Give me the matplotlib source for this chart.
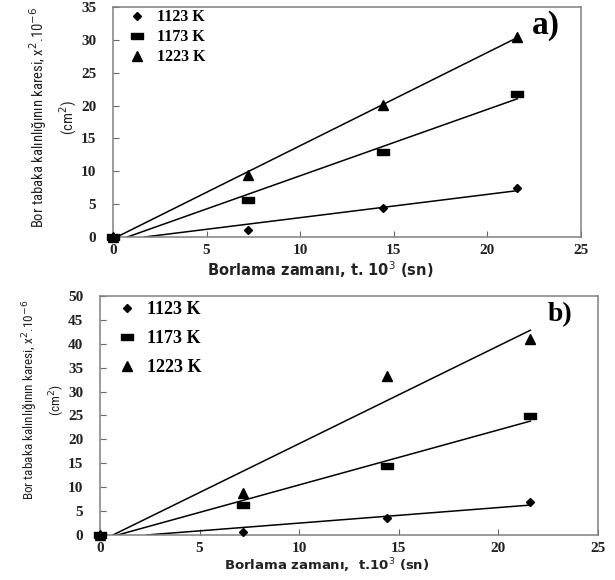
import numpy as np
import matplotlib
matplotlib.use("Agg")
import matplotlib.pyplot as plt

# borlama zamani (10^3 s)
t = [0.0, 7.2, 14.4, 21.6]
temps = ["1123 K", "1173 K", "1223 K"]

# panel a) x^2 . 10^-6 (cm^2)
a_1123 = [0.0, 1.1, 4.4, 7.4]
a_1173 = [0.0, 5.7, 13.0, 21.8]
a_1223 = [0.0, 9.5, 20.1, 30.5]

# panel b)
b_1123 = [0.0, 0.6, 3.6, 6.8]
b_1173 = [0.0, 6.3, 14.4, 24.9]
b_1223 = [0.0, 8.8, 33.3, 40.9]

serif = "Liberation Serif"
narrow = ["Liberation Sans Narrow", "Roboto Condensed", "Arial Narrow", "DejaVu Sans"]
rect = [(-1, -0.6), (1, -0.6), (1, 0.6), (-1, 0.6), (-1, -0.6)]
markers = ["D", rect, "^"]
msizes = [4.5, 8, 7]
zorders = [3, 5, 4]

fig = plt.figure(figsize=(6.15, 5.8), dpi=100)
ax_a = fig.add_axes([0.1837, 0.5914, 0.761, 0.3966])
ax_b = fig.add_axes([0.1626, 0.0776, 0.8098, 0.4121])


def draw(ax, series, ymax, xlabel, xl_pos, xl_size, yl_pos, yl_size, yl_ls,
         tag, tag_pos, tag_size, leg_size, leg_anchor, leg_sp, leg_tp):
    tt = np.array(t)
    for ys, m, ms, z, lab in zip(series, markers, msizes, zorders, temps):
        ax.plot(tt, ys, ls="none", marker=m, color="black", ms=ms,
                label=lab, clip_on=False, zorder=z)
        k, b = np.polyfit(tt, ys, 1)
        ax.plot([-b / k, tt[-1]], [0, k * tt[-1] + b], color="black", lw=1.1)
    ax.set_xlim(0, 25)
    ax.set_ylim(0, ymax)
    ax.set_xticks(np.arange(0, 26, 5))
    ax.set_yticks(np.arange(0, ymax + 1, 5))
    ax.tick_params(direction="in", length=4, width=0.8, color="#666666")
    ax.tick_params(axis="y", pad=12)
    ax.tick_params(axis="x", pad=5)
    for lb in ax.get_xticklabels() + ax.get_yticklabels():
        lb.set_fontfamily(serif)
        lb.set_fontweight("bold")
        lb.set_fontsize(11)
        lb.set_color("#222222")
    for sp in ax.spines.values():
        sp.set_color("#808080")
        sp.set_linewidth(1.1)
    ax.set_xlabel(xlabel, fontsize=xl_size, fontweight="bold",
                  family="DejaVu Sans", color="#222222", va="center")
    ax.xaxis.set_label_coords(*xl_pos)
    ax.set_ylabel("Bor tabaka kalınlığının karesi, x$^2$.10$^{-6}$\n(cm$^2$)",
                  family=narrow, fontsize=yl_size, color="#222222",
                  va="center", linespacing=yl_ls)
    ax.yaxis.set_label_coords(*yl_pos)
    ax.text(tag_pos[0], tag_pos[1], tag, transform=ax.transAxes, family=serif,
            fontweight="bold", fontsize=tag_size, ha="left", va="center")
    ax.legend(loc="upper left", bbox_to_anchor=leg_anchor, frameon=False,
              borderaxespad=0, borderpad=0, handlelength=1.0,
              handletextpad=leg_tp, labelspacing=leg_sp,
              prop={"family": serif, "weight": "bold", "size": leg_size})


draw(ax_a, [a_1123, a_1173, a_1223], 35,
     "Borlama zamanı, t. 10$^3$ (sn)", (0.442, -0.14), 10.5,
     (-0.128, 0.52), 10.5, 1.55,
     "a)", (0.895, 0.92), 24, 11.5, (0.034, 0.99), 0.25, 0.75)
draw(ax_b, [b_1123, b_1173, b_1223], 50,
     "Borlama zamanı,  t.10$^3$ (sn)", (0.456, -0.13), 9.5,
     (-0.113, 0.565), 9.5, 1.5,
     "b)", (0.898, 0.92), 20, 13, (0.036, 0.977), 0.65, 0.6)

fig.savefig("out.png", dpi=100)
